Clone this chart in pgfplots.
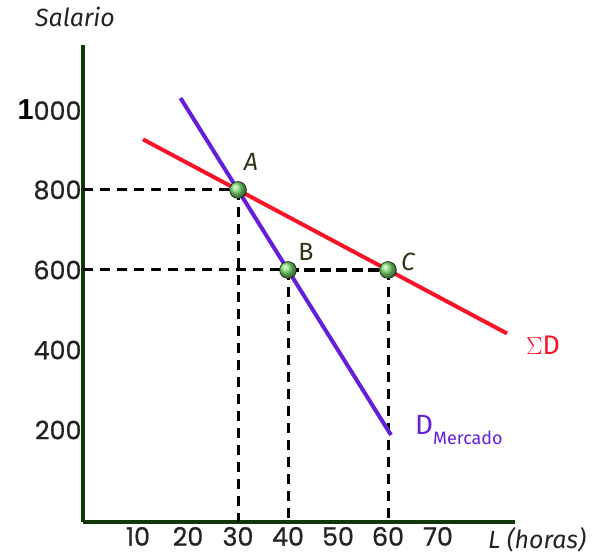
\documentclass[border=0pt]{standalone}
\usepackage{fontspec}
\setmainfont{Poppins}
\newfontfamily\tickfont{Poppins}[FakeBold=0.8]
\newfontfamily\arialfont{Liberation Sans}
\newfontfamily\labfont{Fira Sans}
\usepackage{pgfplots}
\pgfplotsset{compat=1.18}
\definecolor{axgreen}{RGB}{16,56,8}
\definecolor{sdred}{RGB}{250,20,40}
\definecolor{dpurple}{RGB}{100,30,220}
\definecolor{tickgray}{RGB}{35,35,35}
\definecolor{ptlabel}{RGB}{45,55,20}
\definecolor{ballgreen}{RGB}{120,220,110}

\begin{document}
\begin{tikzpicture}
\begin{axis}[
    scale only axis,
    width=432bp, height=477bp,
    xmin=-1, xmax=85.4,
    ymin=-30, ymax=1162.5,
    axis x line=bottom, axis y line=left,
    axis line style={-, line width=4bp, axgreen},
    xtick={10,20,...,70},
    ytick={200,400,600,800,1000},
    yticklabels={200,400,600,800,{{\color{black}\arialfont\bfseries\fontsize{29}{29}\selectfont 1}000}},
    major tick length=0pt,
    tick label style={font=\tickfont\fontsize{25.5}{25.5}\selectfont, text=tickgray},
    yticklabel style={xshift=2bp},
    xticklabel style={yshift=-1.5bp},
    /pgf/number format/assume math mode=true,
    clip=false,
]
    % guide lines
    \addplot[black, line width=3bp, dash pattern=on 10bp off 7bp] coordinates {(-1,800) (30,800)};
    \addplot[black, line width=3bp, dash pattern=on 10bp off 7bp] coordinates {(30,800) (30,-30)};
    \addplot[black, line width=3bp, dash pattern=on 10bp off 7bp] coordinates {(-1,600) (40,600)};
    \addplot[black, line width=4bp, dash pattern=on 11bp off 5bp] coordinates {(40,600) (60,600)};
    \addplot[black, line width=3bp, dash pattern=on 10bp off 7bp] coordinates {(40,600) (40,-30)};
    \addplot[black, line width=3bp, dash pattern=on 10bp off 7bp] coordinates {(60,600) (60,-30)};

    % demand curves
    \addplot[sdred, line width=4bp] coordinates {(11,926.7) (83.8,441.3)};
    \addplot[dpurple, line width=4bp] coordinates {(18.5,1030) (60.6,187.5)};

    % equilibrium points
    \addplot[only marks, mark=ball, mark size=8.5bp, mark options={ball color=ballgreen}]
        coordinates {(30,800) (40,600) (60,600)};

    \node[text=ptlabel, font=\labfont\fontsize{25}{25}\selectfont\itshape] at (axis cs:32.6,870) {A};
    \node[text=ptlabel, font=\labfont\fontsize{25}{25}\selectfont] at (axis cs:43.6,645) {B};
    \node[text=ptlabel, font=\labfont\fontsize{25}{25}\selectfont\itshape] at (axis cs:64,620) {C};

    \node[text=sdred, font=\labfont\fontsize{27}{27}\selectfont, anchor=center] at (axis cs:91,412) {$\Sigma$D};
    \node[text=dpurple, font=\labfont\fontsize{28}{28}\selectfont, anchor=west, inner sep=0pt] at (axis cs:65.4,200)
        {D\raisebox{-0.33em}{\fontsize{18}{18}\selectfont Mercado}};

    \node[text=tickgray, font=\labfont\fontsize{25}{25}\selectfont\itshape, anchor=base] at (axis cs:89.8,-96) {L (horas)};
    \node[text=tickgray, font=\labfont\fontsize{25}{25}\selectfont\itshape, anchor=base] at (axis cs:-2.6,1207.5) {Salario};

    \coordinate (bl) at (rel axis cs:0,0);
    \coordinate (tr) at (rel axis cs:1,1);
\end{axis}
\pgfresetboundingbox
\path[use as bounding box] ([shift={(-83bp,-34bp)}]bl) rectangle ([shift={(89bp,45bp)}]tr);
\end{tikzpicture}
\end{document}
